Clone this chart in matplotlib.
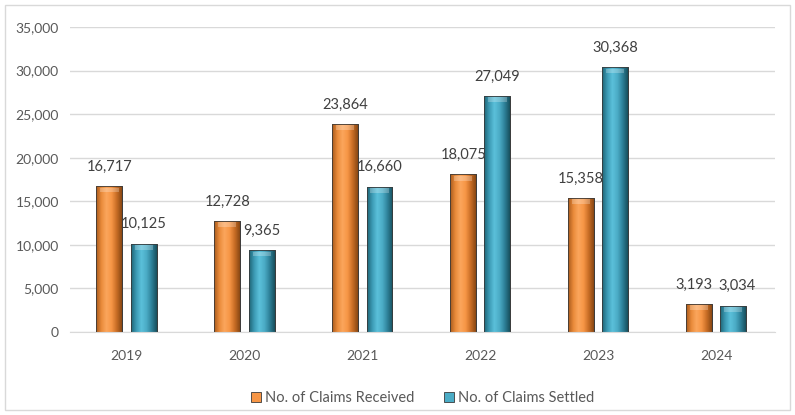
import numpy as np
import matplotlib.pyplot as plt
from matplotlib.patches import Rectangle
from matplotlib.colors import LinearSegmentedColormap

plt.rcParams['font.family'] = ['Lato', 'DejaVu Sans']

years = ['2019', '2020', '2021', '2022', '2023', '2024']
received = [16717, 12728, 23864, 18075, 15358, 3193]
settled = [10125, 9365, 16660, 27049, 30368, 3034]

series_names = ['No. of Claims Received', 'No. of Claims Settled']

orange_cmap = LinearSegmentedColormap.from_list(
    'orange_bevel', ['#A85A1C', '#E98A3A', '#FBA65C', '#F79646', '#C96E26', '#8A4814'])
blue_cmap = LinearSegmentedColormap.from_list(
    'blue_bevel', ['#1F6576', '#3C9BB5', '#5BC0DA', '#4BACC6', '#2E8199', '#18505E'])

fig = plt.figure(figsize=(7.95, 4.15), dpi=100)
fig.patches.append(Rectangle((0.006, 0.012), 0.988, 0.975, transform=fig.transFigure,
                             fill=False, edgecolor='#D9D9D9', linewidth=1))
ax = fig.add_axes([0.088, 0.2, 0.887, 0.735])

x = np.arange(len(years))
width = 0.22
offset = 0.145
grad = np.linspace(0, 1, 64).reshape(1, -1)


def bevel_bars(xpos, values, cmap, color, label):
    bars = ax.bar(xpos, values, width, color=color, edgecolor='#3a3a3a',
                  linewidth=0.6, label=label, zorder=2)
    for b in bars:
        x0, y0, w, h = b.get_x(), b.get_y(), b.get_width(), b.get_height()
        im = ax.imshow(grad, cmap=cmap, aspect='auto', extent=(x0, x0 + w, y0, y0 + h),
                       zorder=2.5)
        im.set_clip_path(b)
        # light cap at the top of each bar
        cap = min(700, h * 0.25)
        ax.add_patch(Rectangle((x0 + w * 0.15, y0 + h - cap), w * 0.7, cap * 0.8,
                               color='white', alpha=0.25, linewidth=0, zorder=2.6))
        ax.add_patch(Rectangle((x0, y0), w, h, fill=False, edgecolor='#3a3a3a',
                               linewidth=0.6, zorder=2.7))
    return bars


b1 = bevel_bars(x - offset, received, orange_cmap, '#F79646', series_names[0])
b2 = bevel_bars(x + offset, settled, blue_cmap, '#4BACC6', series_names[1])

# small sideways nudge keeps the close 2024 labels apart
for bars, vals, nudge in ((b1, received, -4), (b2, settled, 3)):
    for i, (b, v) in enumerate(zip(bars, vals)):
        dx = nudge if i == len(vals) - 1 else 0
        ax.annotate(f'{v:,}', (b.get_x() + b.get_width() / 2, v), xytext=(dx, 9),
                    textcoords='offset points', ha='center', va='bottom',
                    fontsize=10.5, color='#404040')

ax.set_xlim(-0.48, 5.5)
ax.set_ylim(0, 35000)
ax.set_yticks(np.arange(0, 35001, 5000))
ax.yaxis.set_major_formatter(plt.FuncFormatter(lambda v, p: f'{int(v):,}'))
ax.set_xticks(x)
ax.set_xticklabels(years)
ax.tick_params(axis='both', length=0, labelsize=10, labelcolor='#595959', pad=8)
ax.tick_params(axis='x', pad=13)
ax.grid(axis='y', color='#D9D9D9', linewidth=1, zorder=0)
ax.set_axisbelow(True)
for s in ['top', 'right', 'left']:
    ax.spines[s].set_visible(False)
ax.spines['bottom'].set_color('#D9D9D9')

ax.legend(loc='upper center', bbox_to_anchor=(0.5, -0.15), ncol=2, frameon=False,
          fontsize=10.5, labelcolor='#595959', handlelength=0.7, handleheight=0.7,
          handletextpad=0.3, columnspacing=2.0)

fig.savefig('out.png', dpi=100)
